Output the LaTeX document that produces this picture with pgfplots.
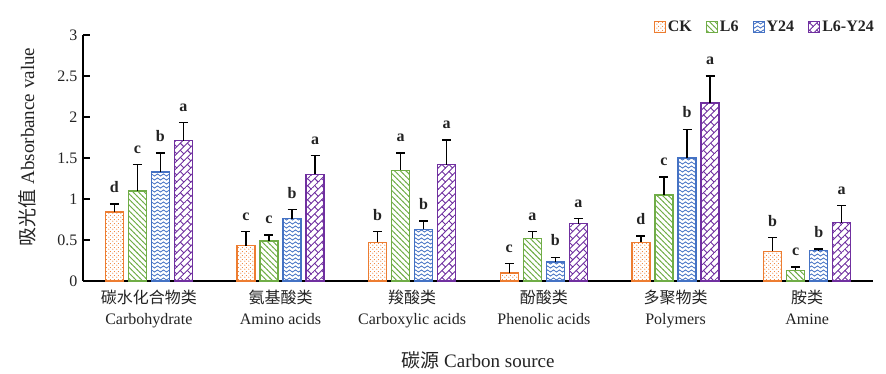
\documentclass[border=0pt]{standalone}
\usepackage{pgfplots}
\pgfplotsset{compat=1.18}
\usepackage{pgfplotstable}
\usepackage{fontspec}
\setmainfont{Liberation Serif}
\newfontfamily\cjk{Noto Sans CJK SC}
\usetikzlibrary{patterns,patterns.meta}
\definecolor{cOr}{RGB}{237,125,49}
\definecolor{cGr}{RGB}{112,173,71}
\definecolor{cBl}{RGB}{68,114,196}
\definecolor{cPu}{RGB}{112,48,160}
\definecolor{txt}{RGB}{35,35,35}

\pgfdeclarepattern{
  name=mydots, type=uncolored,
  bottom left={\pgfpoint{0bp}{0bp}}, top right={\pgfpoint{4bp}{4bp}},
  tile size={\pgfpoint{4bp}{4bp}},
  code={\pgfpathcircle{\pgfpoint{1bp}{1bp}}{0.7bp}\pgfpathcircle{\pgfpoint{3bp}{3bp}}{0.7bp}\pgfusepath{fill}}
}
\pgfdeclarepattern{
  name=mywaves, type=uncolored,
  bottom left={\pgfpoint{-0.5bp}{-0.5bp}}, top right={\pgfpoint{6.5bp}{4.5bp}},
  tile size={\pgfpoint{6bp}{4bp}},
  code={\pgfsetlinewidth{0.8bp}
    \pgfpathmoveto{\pgfpoint{0bp}{2bp}}
    \pgfpathcurveto{\pgfpoint{1bp}{3.4bp}}{\pgfpoint{2bp}{3.4bp}}{\pgfpoint{3bp}{2bp}}
    \pgfpathcurveto{\pgfpoint{4bp}{0.6bp}}{\pgfpoint{5bp}{0.6bp}}{\pgfpoint{6bp}{2bp}}
    \pgfusepath{stroke}}
}
\pgfdeclarepattern{
  name=mylines, type=uncolored,
  bottom left={\pgfpoint{-0.5bp}{-0.5bp}}, top right={\pgfpoint{4.5bp}{4.5bp}},
  tile size={\pgfpoint{4bp}{4bp}},
  tile transformation={\pgftransformrotate{-45}},
  code={\pgfsetlinewidth{0.9bp}
    \pgfpathmoveto{\pgfpoint{-0.5bp}{2bp}}\pgfpathlineto{\pgfpoint{4.5bp}{2bp}}
    \pgfusepath{stroke}}
}
\pgfdeclarepattern{
  name=mybricks, type=uncolored,
  bottom left={\pgfpoint{-0.5bp}{-0.5bp}}, top right={\pgfpoint{10.5bp}{10.5bp}},
  tile size={\pgfpoint{10bp}{10bp}},
  tile transformation={\pgftransformrotate{45}},
  code={\pgfsetlinewidth{0.9bp}
    \pgfpathmoveto{\pgfpoint{-0.5bp}{0bp}}\pgfpathlineto{\pgfpoint{10.5bp}{0bp}}
    \pgfpathmoveto{\pgfpoint{-0.5bp}{5bp}}\pgfpathlineto{\pgfpoint{10.5bp}{5bp}}
    \pgfpathmoveto{\pgfpoint{0bp}{0bp}}\pgfpathlineto{\pgfpoint{0bp}{5bp}}
    \pgfpathmoveto{\pgfpoint{5bp}{5bp}}\pgfpathlineto{\pgfpoint{5bp}{10bp}}
    \pgfusepath{stroke}}
}

\pgfplotstableread{
x CK CKe CKl L6 L6e L6l Y Ye Yl LY LYe LYl
0 0.84 0.10 d 1.10 0.32 c 1.33 0.23 b 1.71 0.22 a
1 0.43 0.17 c 0.49 0.07 c 0.76 0.11 b 1.30 0.23 a
2 0.47 0.13 b 1.35 0.21 a 0.63 0.10 b 1.42 0.30 a
3 0.10 0.11 c 0.52 0.08 a 0.23 0.06 b 0.70 0.06 a
4 0.47 0.08 d 1.05 0.22 c 1.50 0.35 b 2.17 0.33 a
5 0.36 0.17 b 0.13 0.04 c 0.37 0.02 b 0.71 0.21 a
}\data

\pgfplotsset{
  mybar/.style={ybar, bar width=18bp, line width=1.4bp,
    legend image code/.code={\draw[##1, line width=1.1bp] (0bp,-5.5bp) rectangle (11bp,5.5bp);}},
  errs/.style={forget plot, draw=none, mark=none,
    error bars/y dir=plus, error bars/y explicit,
    error bars/error bar style={draw=black, line width=1.3bp},
    error bars/error mark options={rotate=90, draw=black, line width=1.3bp, mark size=4.5bp}},
  letters/.style={forget plot, draw=none, mark=none, nodes near coords,
    point meta=explicit symbolic,
    every node near coord/.append style={font=\fontsize{16bp}{18bp}\selectfont\bfseries, text=txt, anchor=south, inner sep=0pt, yshift=11bp}}
}

\begin{document}
\begin{tikzpicture}
\begin{axis}[name=ax, scale only axis, width=790bp, height=246bp,
  xmin=-0.5, xmax=5.5, ymin=0, ymax=3, clip=false,
  axis x line=bottom, axis y line=left, axis line style={-, black, line width=1.3bp},
  tick align=inside, tick style={black, line width=1.3bp},
  ytick={0,0.5,...,3}, major tick length=7bp,
  xtick={0,...,5}, x tick style={draw=none},
  extra x ticks={0.5,1.5,...,5.5}, extra x tick labels={},
  extra x tick style={tick style={draw=black, line width=1.3bp}, major tick length=7bp},
  xticklabels={{{\cjk 碳水化合物类}\\Carbohydrate},{{\cjk 氨基酸类}\\Amino acids},{{\cjk 羧酸类}\\Carboxylic acids},{{\cjk 酚酸类}\\Phenolic acids},{{\cjk 多聚物类}\\Polymers},{{\cjk 胺类}\\Amine}},
  xticklabel style={align=center, font=\fontsize{16bp}{21bp}\selectfont, text=txt, inner sep=0pt, yshift=-9bp},
  yticklabel style={font=\fontsize{16bp}{18bp}\selectfont, text=txt, xshift=-2bp},
  /pgf/number format/assume math mode=true,
  xlabel={{\cjk 碳源} Carbon source},
  ylabel={{\cjk 吸光值} Absorbance value},
  every axis x label/.style={at={(rel axis cs:0.5,0)}, yshift=-79bp, anchor=center, font=\fontsize{19bp}{22bp}\selectfont, text=txt},
  every axis y label/.style={at={(rel axis cs:0,0.545)}, xshift=-56bp, rotate=90, anchor=center, font=\fontsize{19bp}{22bp}\selectfont, text=txt},
  legend style={at={(rel axis cs:1,1)}, anchor=east, xshift=3bp, yshift=8bp, draw=none, fill=none,
    font=\fontsize{16bp}{18bp}\selectfont\bfseries, text=txt, legend columns=-1, inner sep=0pt,
    /tikz/every even column/.append style={column sep=12bp}},
]
\addplot[mybar, bar shift=-34.56bp, draw=cOr, pattern=mydots, pattern color=cOr] table[x=x, y=CK]{\data};
\addplot[mybar, bar shift=-11.52bp, draw=cGr, pattern=mylines, pattern color=cGr] table[x=x, y=L6]{\data};
\addplot[mybar, bar shift=11.52bp, draw=cBl, pattern=mywaves, pattern color=cBl] table[x=x, y=Y]{\data};
\addplot[mybar, bar shift=34.56bp, draw=cPu, pattern=mybricks, pattern color=cPu] table[x=x, y=LY]{\data};
\legend{CK, L6, Y24, L6-Y24}
\addplot[errs] table[x expr=\thisrow{x}-0.2625, y=CK, y error plus=CKe]{\data};
\addplot[errs] table[x expr=\thisrow{x}-0.0875, y=L6, y error plus=L6e]{\data};
\addplot[errs] table[x expr=\thisrow{x}+0.0875, y=Y, y error plus=Ye]{\data};
\addplot[errs] table[x expr=\thisrow{x}+0.2625, y=LY, y error plus=LYe]{\data};
\addplot[letters] table[x expr=\thisrow{x}-0.2625, y expr=\thisrow{CK}+\thisrow{CKe}, meta=CKl]{\data};
\addplot[letters] table[x expr=\thisrow{x}-0.0875, y expr=\thisrow{L6}+\thisrow{L6e}, meta=L6l]{\data};
\addplot[letters] table[x expr=\thisrow{x}+0.0875, y expr=\thisrow{Y}+\thisrow{Ye}, meta=Yl]{\data};
\addplot[letters] table[x expr=\thisrow{x}+0.2625, y expr=\thisrow{LY}+\thisrow{LYe}, meta=LYl]{\data};
\end{axis}
\path ([shift={(-83bp,-92bp)}]ax.south west) rectangle ([shift={(13bp,35bp)}]ax.north east);
\end{tikzpicture}
\end{document}
